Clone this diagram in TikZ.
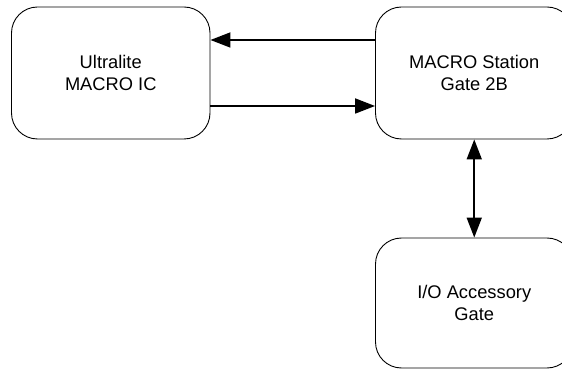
\documentclass[tikz,border=0pt]{standalone}
\usepackage{fontspec}
\setmainfont{Liberation Sans}
\usetikzlibrary{arrows.meta}
\begin{document}
\begin{tikzpicture}[x=1pt,y=-1pt,
  blk/.style={draw=black, line width=0.9pt, rounded corners=26pt, inner sep=0pt, align=center,
    font=\fontsize{18.3}{21.5}\selectfont},
  conn/.style={line width=1.8pt, -{Triangle[length=20pt,width=15pt]}},
  conn2/.style={line width=1.8pt, {Triangle[length=20pt,width=15pt]}-{Triangle[length=20pt,width=15pt]}}]
\useasboundingbox (0,0) rectangle (562,371);
\node[blk, minimum width=198.5pt, minimum height=132pt] (ic) at (110.75,73) {Ultralite\\MACRO IC};
\node[blk, minimum width=197.5pt, minimum height=132pt] (st) at (474.25,73) {MACRO Station\\Gate 2B};
\node[blk, minimum width=197.5pt, minimum height=130pt] (io) at (474.25,303) {I/O Accessory\\Gate};
\coordinate (a1) at (st.west |- 0,40);
\coordinate (a2) at (ic.east |- 0,40);
\coordinate (b1) at (ic.east |- 0,106);
\coordinate (b2) at (st.west |- 0,106);
\draw[conn] (a1) -- (a2);
\draw[conn] (b1) -- (b2);
\draw[conn2] (st.south) -- (io.north);
\end{tikzpicture}
\end{document}
